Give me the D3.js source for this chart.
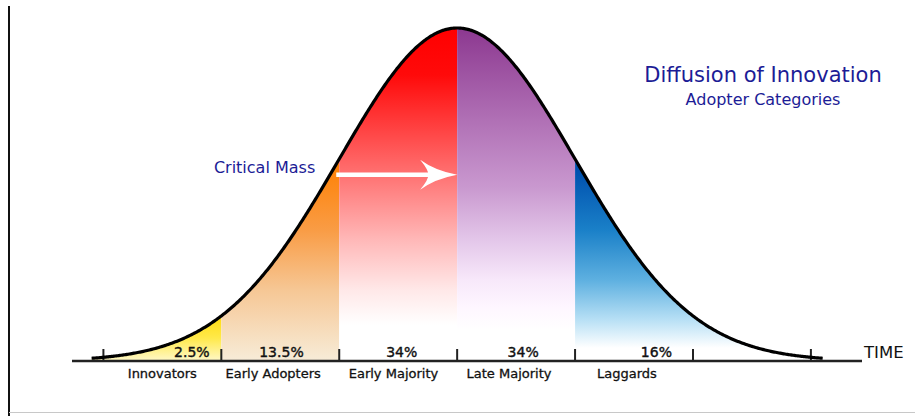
<!DOCTYPE html>
<html>
<head>
<meta charset="utf-8">
<script src="https://cdn.jsdelivr.net/npm/d3@7"></script>
<style>
	body { margin: 0; background: #fff; }
	svg { display: block; font-family: "DejaVu Sans", Verdana, sans-serif; }
</style>
</head>
<body>
<div id="wrapper"></div>
<script>
// adopter categories, their share and where they sit on the time axis (in standard deviations)
const categories = ["Innovators", "Early Adopters", "Early Majority", "Late Majority", "Laggards"];
const shares = ["2.5%", "13.5%", "34%", "34%", "16%"];
const sectionFrom = [-3.1, -2, -1, 0, 1];
const sectionTo = [-2, -1, 0, 1, 3.1];
const tickValues = [-3, -2, -1, 0, 1, 2, 3];

// gradient colours for each section (top of curve -> baseline)
const sectionColors = [
	[[310, "#ffd700"], [338, "#ffe94a"], [361, "#fff8c8"]],
	[[160, "#ff7f00"], [230, "#f99c45"], [290, "#f6c795"], [361, "#f7ecd8"]],
	[[28, "#ff0000"], [75, "#ff0a0a"], [175, "#ff7272"], [240, "#ffb8b8"], [290, "#ffe8e8"], [325, "#ffffff"]],
	[[28, "#8c3890"], [120, "#b070b5"], [187, "#c998cf"], [237, "#e2c4e8"], [280, "#f7e8fa"], [307, "#fef6ff"], [330, "#ffffff"]],
	[[170, "#0050ae"], [230, "#1a80c8"], [280, "#5eb0e0"], [320, "#b8e0f5"], [348, "#ffffff"]]
];

// label nudges (in standard deviations) so text sits as in the original
const shareAt = [-2.25, -1.49, -0.47, 0.56, 1.69];
const nameAt = [-2.5, -1.56, -0.54, 0.44, 1.44];

const width = 915;
const height = 416;
const base = 361;

const svg = d3.select("#wrapper")
	.append("svg")
	.attr("width", width)
	.attr("height", height);

const xScale = d3.scaleLinear()
	.domain([-3, 3])
	.range([103.4, 810.9]);

const yScale = d3.scaleLinear()
	.domain([0, 1])
	.range([base, 28]);

function density(k) {
	return Math.exp(-k * k / 2);
}

// frame lines
svg.append("line")
	.attr("x1", 9).attr("x2", 9)
	.attr("y1", 6).attr("y2", height)
	.attr("stroke", "#111").attr("stroke-width", 2);
svg.append("line")
	.attr("x1", 9).attr("x2", width)
	.attr("y1", 412.5).attr("y2", 412.5)
	.attr("stroke", "#c8c8c8").attr("stroke-width", 1);

// gradients
const defs = svg.append("defs");
sectionColors.forEach(function(stops, i) {
	const y0 = stops[0][0];
	const y1 = stops[stops.length - 1][0];
	const grad = defs.append("linearGradient")
		.attr("id", "grad" + i)
		.attr("gradientUnits", "userSpaceOnUse")
		.attr("x1", 0).attr("x2", 0)
		.attr("y1", y0).attr("y2", y1);
	stops.forEach(function(s) {
		grad.append("stop")
			.attr("offset", (s[0] - y0) / (y1 - y0))
			.attr("stop-color", s[1]);
	});
});

const area = d3.area()
	.x(function(k) { return xScale(k); })
	.y0(base)
	.y1(function(k) { return yScale(density(k)); });

svg.selectAll(".section")
	.data(categories)
	.enter().append("path")
	.attr("class", "section")
	.attr("d", function(d, i) {
		return area(d3.range(sectionFrom[i], sectionTo[i] + 0.0001, 0.01));
	})
	.attr("fill", function(d, i) { return "url(#grad" + i + ")"; });

// axis baseline + ticks
svg.append("line")
	.attr("x1", 72).attr("x2", 862)
	.attr("y1", base).attr("y2", base)
	.attr("stroke", "#222").attr("stroke-width", 2.5);

svg.selectAll(".tick")
	.data(tickValues)
	.enter().append("line")
	.attr("x1", function(d) { return xScale(d); })
	.attr("x2", function(d) { return xScale(d); })
	.attr("y1", 349).attr("y2", base)
	.attr("stroke", "#222").attr("stroke-width", 2);

// bell curve
const line = d3.line()
	.x(function(k) { return xScale(k); })
	.y(function(k) { return yScale(density(k)); });

svg.append("path")
	.attr("d", line(d3.range(-3.1, 3.1001, 0.01)))
	.attr("fill", "none")
	.attr("stroke", "#000")
	.attr("stroke-width", 3.2);

// critical mass arrow
const arrowY = yScale(0.559);
const x0 = xScale(-1) - 3;
const tip = xScale(0);
svg.append("line")
	.attr("x1", x0).attr("x2", tip - 20)
	.attr("y1", arrowY).attr("y2", arrowY)
	.attr("stroke", "#fff").attr("stroke-width", 4.5);
svg.append("path")
	.attr("d", "M" + tip + "," + arrowY +
		" Q" + (tip - 22) + "," + (arrowY - 4) + " " + (tip - 37) + "," + (arrowY - 15) +
		" Q" + (tip - 28) + "," + (arrowY - 4) + " " + (tip - 29) + "," + arrowY +
		" Q" + (tip - 28) + "," + (arrowY + 4) + " " + (tip - 37) + "," + (arrowY + 15) +
		" Q" + (tip - 22) + "," + (arrowY + 4) + " " + tip + "," + arrowY + "Z")
	.attr("fill", "#fff");

svg.append("text")
	.attr("x", xScale(-1) - 24)
	.attr("y", 173)
	.attr("text-anchor", "end")
	.attr("font-size", 16)
	.attr("fill", "#1c1c96")
	.text("Critical Mass");

// title
svg.append("text")
	.attr("x", 763).attr("y", 82)
	.attr("text-anchor", "middle")
	.attr("font-size", 21)
	.attr("fill", "#1c1c96")
	.text("Diffusion of Innovation");
svg.append("text")
	.attr("x", 763).attr("y", 105)
	.attr("text-anchor", "middle")
	.attr("font-size", 16)
	.attr("fill", "#1c1c96")
	.text("Adopter Categories");

// share labels
svg.selectAll(".share")
	.data(shares)
	.enter().append("text")
	.attr("class", "share")
	.attr("x", function(d, i) { return xScale(shareAt[i]); })
	.attr("y", 357)
	.attr("text-anchor", "middle")
	.attr("font-size", 14)
	.attr("fill", "#111")
	.attr("stroke", "#111").attr("stroke-width", 0.4)
	.text(function(d) { return d; });

// category labels
svg.selectAll(".name")
	.data(categories)
	.enter().append("text")
	.attr("class", "name")
	.attr("x", function(d, i) { return xScale(nameAt[i]); })
	.attr("y", 378)
	.attr("text-anchor", "middle")
	.attr("font-size", 13)
	.attr("fill", "#111")
	.attr("stroke", "#111").attr("stroke-width", 0.3)
	.text(function(d) { return d; });

svg.append("text")
	.attr("x", 864).attr("y", 358)
	.attr("font-size", 16.5)
	.attr("fill", "#111")
	.text("TIME");
</script>
</body>
</html>
